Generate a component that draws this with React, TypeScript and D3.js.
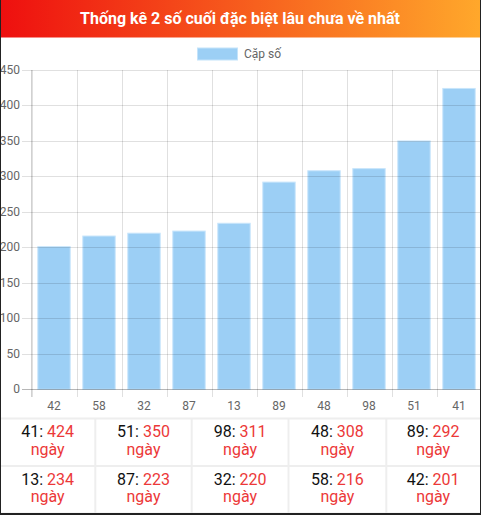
import React from 'react';
import * as d3 from 'd3';

const title = 'Thống kê 2 số cuối đặc biệt lâu chưa về nhất';
const legendLabel = 'Cặp số';
const categories = ['42', '58', '32', '87', '13', '89', '48', '98', '51', '41'];
const values = [201, 216, 220, 223, 234, 292, 308, 311, 350, 424];
const yTicks = [0, 50, 100, 150, 200, 250, 300, 350, 400, 450];
const tableNums = ['41', '51', '98', '48', '89', '13', '87', '32', '58', '42'];
const tableDays = [424, 350, 311, 308, 292, 234, 223, 220, 216, 201];
const dayWord = 'ngày';

const W = 481;
const H = 515;
const FONT = 'Roboto, "Noto Sans", Arial, sans-serif';
const RED = '#ec3838';

export default function App() {
  const plotL = 31.5;
  const plotR = 481.5;
  const plotT = 70;
  const plotB = 389.3;
  const x = d3.scaleBand<string>().domain(categories).range([plotL, plotR]).paddingInner(0).paddingOuter(0);
  const y = d3.scaleLinear().domain([0, 450]).range([plotB, plotT]);
  const bw = x.bandwidth() * 0.72;
  const grid = 'rgba(0,0,0,0.12)';

  const colX = [0, 95.3, 191.7, 288.5, 386.3, 480];
  const rowY = [418.5, 466, 513.5];

  return (
    <svg width={W} height={H} style={{ position: 'fixed', left: 0, top: 0, display: 'block' }} fontFamily={FONT}>
      <defs>
        <linearGradient id="hdr" x1="0" x2="1" y1="0" y2="0">
          <stop offset="0" stopColor="#ee0f0f" />
          <stop offset="1" stopColor="#ffa82b" />
        </linearGradient>
      </defs>
      <rect x={0} y={0} width={W} height={H} fill="#fff" />
      <rect x={0} y={0} width={W} height={37.5} fill="url(#hdr)" />
      <text x={240} y={24} textAnchor="middle" fill="#fff" fontSize={16} fontWeight="bold">{title}</text>

      {/* legend */}
      <rect x={197.5} y={48} width={40} height={12} fill="#9ccff5" stroke="#c4e3fa" strokeWidth={1} />
      <text x={244} y={58} fill="#666" fontSize={12}>{legendLabel}</text>

      {/* bars */}
      {categories.map((c, i) => (
        <rect key={c}
          x={(x(c) as number) + (x.bandwidth() - bw) / 2}
          y={y(values[i])}
          width={bw}
          height={plotB - y(values[i])}
          fill="#9ccff5"
          stroke="#c8e5fb"
          strokeWidth={1}
        />
      ))}

      {/* horizontal grid */}
      {yTicks.map(t => (
        <g key={t}>
          <line x1={22} x2={plotR} y1={Math.round(y(t)) + 0.5} y2={Math.round(y(t)) + 0.5} stroke={grid} />
          <text x={20} y={y(t) + 4} textAnchor="end" fill="#666" fontSize={12}>{t}</text>
        </g>
      ))}

      {/* vertical grid */}
      {categories.map(c => (
        <line key={'v' + c} x1={Math.round(x(c) as number) + 0.5} x2={Math.round(x(c) as number) + 0.5} y1={plotT} y2={397} stroke={grid} />
      ))}
      <line x1={plotL} x2={plotL} y1={plotT} y2={397} stroke="rgba(0,0,0,0.18)" />
      <line x1={22} x2={plotR} y1={Math.round(plotB) + 0.5} y2={Math.round(plotB) + 0.5} stroke="rgba(0,0,0,0.18)" />

      {categories.map(c => (
        <text key={'xl' + c} x={(x(c) as number) + x.bandwidth() / 2} y={410} textAnchor="middle" fill="#666" fontSize={12}>{c}</text>
      ))}

      {/* table */}
      {rowY.map((ry, i) => (
        <line key={'tr' + i} x1={0} x2={W} y1={ry} y2={ry} stroke="#eeeeee" strokeWidth={2} />
      ))}
      {colX.slice(1, 5).map((cx, i) => (
        <line key={'tc' + i} x1={cx} x2={cx} y1={rowY[0]} y2={rowY[2]} stroke="#eeeeee" strokeWidth={2} />
      ))}
      {tableNums.map((n, i) => {
        const r = Math.floor(i / 5);
        const c = i % 5;
        const cx = (colX[c] + colX[c + 1]) / 2;
        const top = rowY[r];
        return (
          <g key={'cell' + i}>
            <text x={cx} y={top + 18.5} textAnchor="middle" fontSize={16}>
              <tspan fill="#111">{n}: </tspan>
              <tspan fill={RED}>{tableDays[i]}</tspan>
            </text>
            <text x={cx} y={top + 36} textAnchor="middle" fontSize={16} fill={RED}>{dayWord}</text>
          </g>
        );
      })}

      {/* outer border */}
      <line x1={0.5} x2={0.5} y1={0} y2={H} stroke="#222" />
      <line x1={W - 0.5} x2={W - 0.5} y1={0} y2={H} stroke="#222" />
      <line x1={0} x2={W} y1={H - 1} y2={H - 1} stroke="#222" strokeWidth={2} />
    </svg>
  );
}
